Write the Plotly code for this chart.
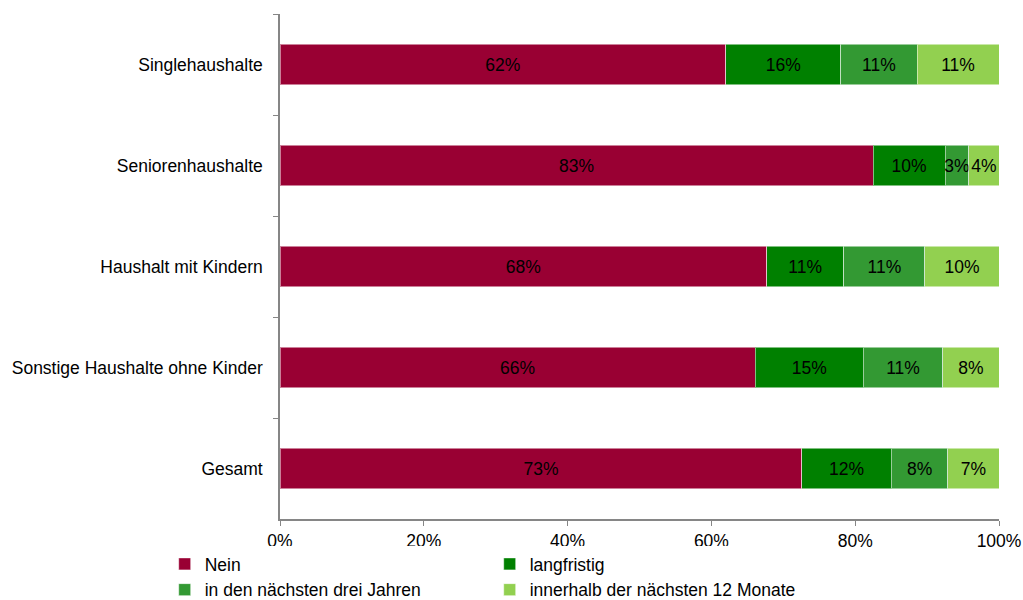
import plotly.graph_objects as go

# Haushaltstypen (von oben nach unten)
kategorien = ["Singlehaushalte", "Seniorenhaushalte", "Haushalt mit Kindern",
              "Sonstige Haushalte ohne Kinder", "Gesamt"]

# Anteile je Antwort (aus dem Bild geschätzt)
nein = [0.620, 0.825, 0.677, 0.661, 0.726]
langfristig = [0.160, 0.100, 0.107, 0.150, 0.124]
drei_jahre = [0.106, 0.033, 0.113, 0.111, 0.079]
zwoelf_monate = [0.114, 0.042, 0.103, 0.078, 0.071]

# Beschriftungen in den Balken
nein_txt = ["62%", "83%", "68%", "66%", "73%"]
langfristig_txt = ["16%", "10%", "11%", "15%", "12%"]
drei_jahre_txt = ["11%", "3%", "11%", "11%", "8%"]
zwoelf_monate_txt = ["11%", "4%", "10%", "8%", "7%"]

serien = [
    ("Nein", nein, nein_txt, "#990033"),
    ("langfristig", langfristig, langfristig_txt, "#008000"),
    ("in den nächsten drei Jahren", drei_jahre, drei_jahre_txt, "#339933"),
    ("innerhalb der nächsten 12 Monate", zwoelf_monate, zwoelf_monate_txt, "#92D050"),
]

fs = 17.5

fig = go.Figure()
for name, werte, texte, farbe in serien:
    fig.add_trace(go.Bar(
        y=kategorien, x=werte, name=name, orientation="h",
        marker=dict(color=farbe, line=dict(color="rgba(255,255,255,0.5)", width=1)),
        text=texte, textposition="inside", insidetextanchor="middle",
        textangle=0, textfont=dict(color="black", size=fs),
        hoverinfo="skip",
    ))

fig.update_layout(
    barmode="stack",
    bargap=0.6,
    width=1023, height=600,
    margin=dict(l=280, r=24, t=14, b=81),
    paper_bgcolor="white", plot_bgcolor="white",
    font=dict(family="Liberation Sans, Arial, sans-serif", size=fs, color="black"),
    uniformtext=dict(minsize=fs, mode="show"),
    legend=dict(orientation="h", xref="container", yref="container",
                x=0.161, y=0.09, xanchor="left", yanchor="top",
                entrywidth=280, entrywidthmode="pixels", traceorder="normal",
                font=dict(size=fs), itemwidth=30, tracegroupgap=0),
    showlegend=True,
)

fig.update_xaxes(
    range=[0, 1], tickformat=".0%", dtick=0.2, automargin=False,
    showline=True, linecolor="#868686", linewidth=1.5,
    ticks="outside", ticklen=5, tickcolor="#868686",
    showgrid=False, zeroline=False, fixedrange=True,
)
fig.update_yaxes(
    categoryorder="array", categoryarray=kategorien, autorange="reversed",
    automargin=False,
    showline=True, linecolor="#868686", linewidth=1.5,
    ticks="outside", ticklen=5, tickcolor="#868686", tickson="boundaries",
    ticklabelstandoff=12,
    showgrid=False, zeroline=False, fixedrange=True,
)

fig.write_html("out.html", config={"displayModeBar": False},
               post_script="document.body.style.margin='0';")
